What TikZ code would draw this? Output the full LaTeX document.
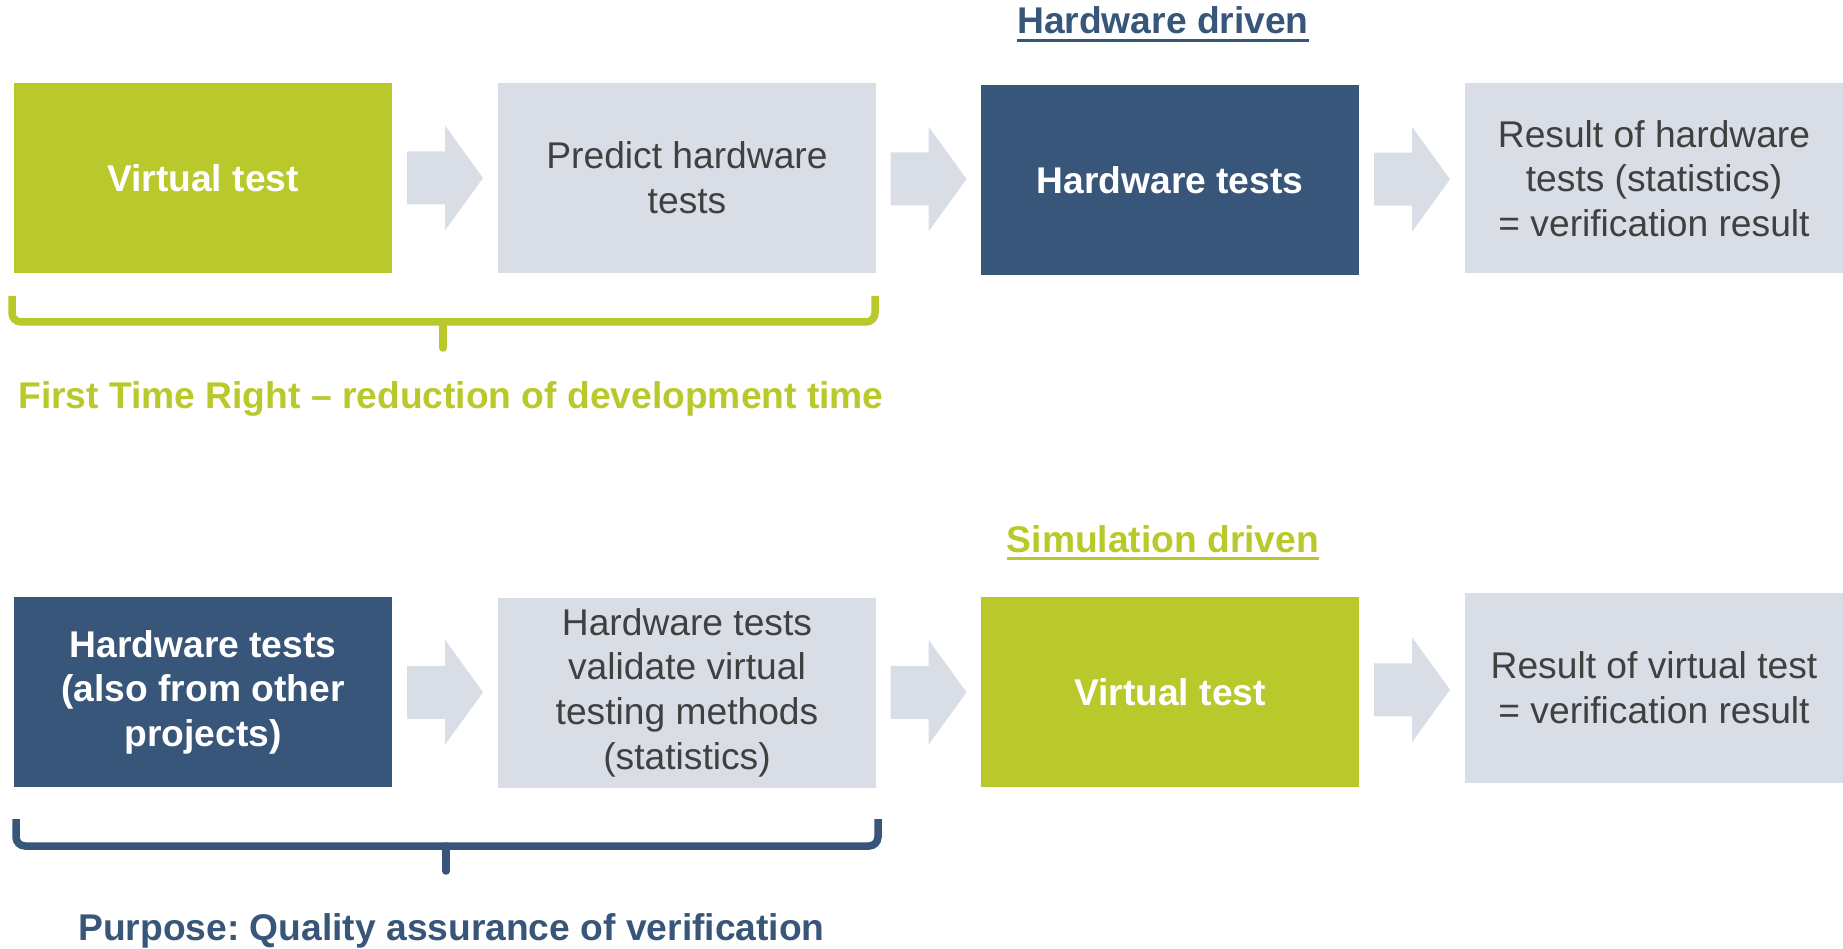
\documentclass[tikz,border=0pt]{standalone}
\usepackage{fontspec}
\setmainfont{Liberation Sans}
\frenchspacing
\usetikzlibrary{calc}
\definecolor{limegreen}{RGB}{185,200,42}
\definecolor{navyblue}{RGB}{56,86,121}
\definecolor{paleblue}{RGB}{217,221,229}
\definecolor{darktext}{RGB}{64,64,64}
\tikzset{
  basefont/.style={font=\fontsize{37.2}{44.6}\selectfont},
  box/.style={basefont, minimum width=378pt, minimum height=190pt, inner sep=0pt, align=center},
  greenbox/.style={box, fill=limegreen, text=white, font=\fontsize{37.2}{44.6}\selectfont\bfseries},
  navybox/.style={box, fill=navyblue, text=white, font=\fontsize{37.2}{44.6}\selectfont\bfseries},
  greybox/.style={box, fill=paleblue, text=darktext},
  heading/.style={font=\fontsize{37.2}{44}\selectfont\bfseries, inner sep=0pt, anchor=base},
  bracket/.style={line width=7.5pt, rounded corners=9pt},
}
% block arrow centred on a coordinate, pointing right
\newcommand\blockarrow[1]{%
  \fill[paleblue] ($(#1)+(-38,-26.5)$) -- ($(#1)+(0,-26.5)$) -- ($(#1)+(0,-52.5)$)
    -- ($(#1)+(38,0)$) -- ($(#1)+(0,52.5)$) -- ($(#1)+(0,26.5)$)
    -- ($(#1)+(-38,26.5)$) -- cycle;}
\begin{document}
\begin{tikzpicture}[x=1pt,y=-1pt]
\useasboundingbox (0,0) rectangle (1843,949);

% ---------- hardware driven row ----------
\node[heading, text=navyblue] (hwtitle) at (1163,34) {Hardware driven};
\draw[navyblue, line width=3pt] ([yshift=-7pt]hwtitle.base west) -- ([yshift=-7pt]hwtitle.base east);

\node[greenbox] (vt1) at (203,178) {Virtual test};
\node[greybox]  (pred) at (687,178) {Predict hardware\\tests};
\node[navybox]  (hw1) at (1170,180) {Hardware tests};
\node[greybox]  (res1) at (1654,178.5) {Result of hardware\\tests (statistics)\\= verification result};

\path (vt1.east) -- (pred.west) coordinate[midway] (a1);
\path (pred.east) -- (hw1.west) coordinate[midway] (a2);
\path (hw1.east) -- (res1.west) coordinate[midway] (a3);
\blockarrow{a1}
\blockarrow{a2}
\blockarrow{a3}

% bracket under the first two steps
\draw[bracket, limegreen] (12,296) -- (12,322) -- (875,322) -- (875,296);
\draw[limegreen, line width=7.5pt, line cap=round] (443,322) -- (443,348);
\node[heading, text=limegreen] (ftr) at (451,408) {First Time Right -- reduction of development time};

% ---------- simulation driven row ----------
\node[heading, text=limegreen] (simtitle) at (1163,552) {Simulation driven};
\draw[limegreen, line width=3pt] ([yshift=-6pt]simtitle.base west) -- ([yshift=-6pt]simtitle.base east);

\node[navybox]  (hw2) at (203,692) {Hardware tests\\(also from other\\projects)};
\node[greybox]  (val) at (687,692.5) {Hardware tests\\validate virtual\\testing methods\\(statistics)};
\node[greenbox] (vt2) at (1170,692) {Virtual test};
\node[greybox]  (res2) at (1654,687.5) {Result of virtual test\\= verification result};

\path (hw2.east) -- (val.west) coordinate[midway] (b1);
\path (val.east) -- (vt2.west) coordinate[midway] (b2);
\path (vt2.east) -- (res2.west) coordinate[midway] (b3);
\blockarrow{b1}
\blockarrow{b2}
\blockarrow{b3}

\draw[bracket, navyblue] (16,819) -- (16,846) -- (878,846) -- (878,819);
\draw[navyblue, line width=7.5pt, line cap=round] (446,846) -- (446,871);
\node[heading, text=navyblue] (purp) at (451.5,940) {Purpose: Quality assurance of verification};
\end{tikzpicture}
\end{document}
